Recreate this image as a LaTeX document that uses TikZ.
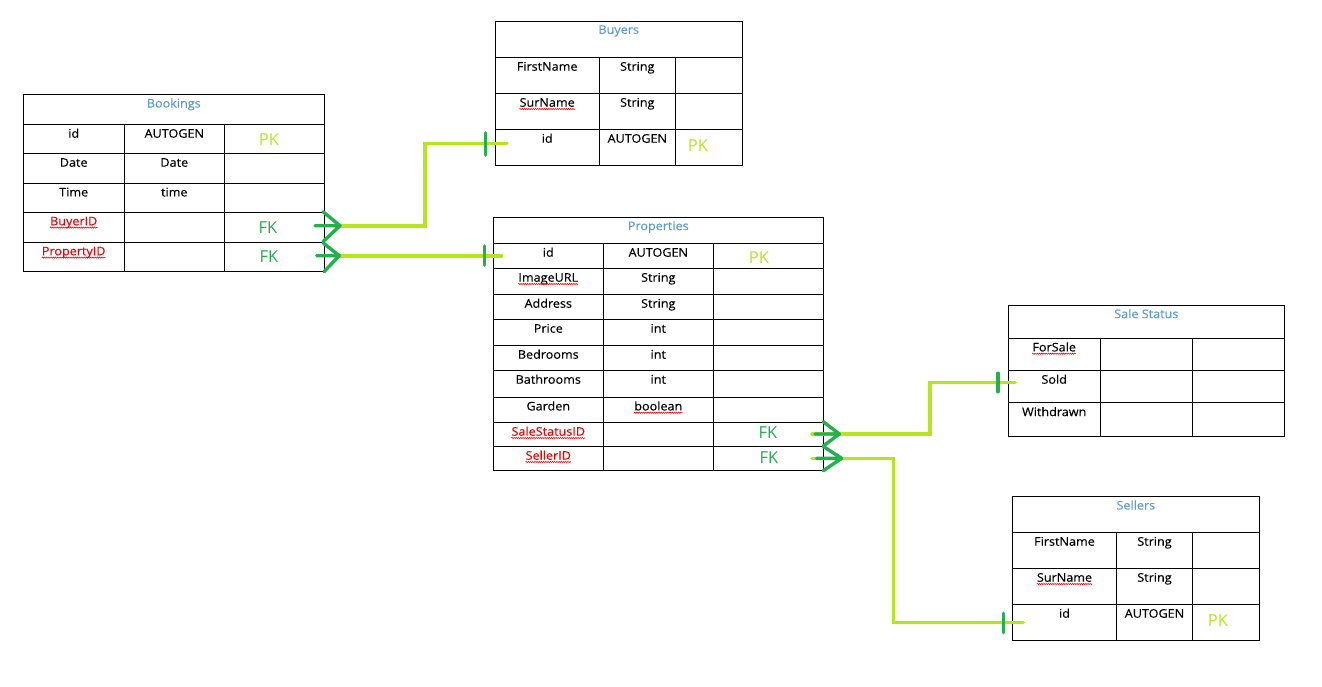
\documentclass[tikz,border=0pt]{standalone}
\usepackage{fontspec}
\setmainfont{Open Sans}[FakeStretch=1.06, FakeBold=0.3]
\newfontfamily\keyfont{Open Sans}
\usetikzlibrary{decorations.pathmorphing}

\definecolor{hdrblue}{RGB}{91,155,213}
\definecolor{lime}{RGB}{181,230,29}
\definecolor{pgreen}{RGB}{34,177,76}
\definecolor{fkgreen}{RGB}{36,172,72}
\definecolor{errred}{RGB}{240,0,0}

\tikzset{
  grid/.style={draw=black, line width=1.1pt},
  cell/.style={font=\fontsize{11.9}{12}\selectfont, anchor=base, inner sep=0pt},
  hdr/.style={cell, text=hdrblue},
  fkname/.style={cell, text=errred},
  pkey/.style={font=\keyfont\fontsize{16.5}{17}\selectfont, text=lime, anchor=base, inner sep=0pt},
  fkey/.style={font=\keyfont\fontsize{16.5}{17}\selectfont, text=fkgreen, anchor=base, inner sep=0pt},
  link/.style={draw=lime, line width=3.6pt, line cap=round, line join=miter},
  crow/.style={draw=pgreen, line width=3.4pt, line cap=round, line join=round},
  bar/.style={draw=pgreen, line width=3.6pt, line cap=round},
  squiggle/.style={draw=red, line width=0.6pt, decorate,
    decoration={snake, amplitude=0.6pt, segment length=2.2pt}},
}

% red wavy underline below a named text node
\newcommand{\wavy}[1]{%
  \draw[squiggle] ([yshift=-2.3pt]#1.base west) -- ([yshift=-2.3pt]#1.base east);}

\begin{document}
\begin{tikzpicture}[x=1pt, y=-1pt]
\useasboundingbox (0,0) rectangle (1322,686);

% ---------------- Bookings ----------------
\draw[grid] (23.5,94.5) rectangle (324.5,271.5);
\foreach \y in {124.5,153.5,183.5,212.5,242.5} \draw[grid] (23.5,\y) -- (324.5,\y);
\foreach \x in {124.5,224.5} \draw[grid] (\x,124.5) -- (\x,271.5);
\node[hdr] (bk-title) at (173.8,107.5) {Bookings};
\node[cell] (bk-id) at (73.7,137.7) {id};
\node[cell] (bk-idt) at (174.3,137.7) {AUTOGEN};
\node[pkey] (bk-pk) at (269,145.3) {PK};
\node[cell] (bk-date) at (73.7,166.7) {Date};
\node[cell] (bk-datet) at (174.3,166.7) {Date};
\node[cell] (bk-time) at (73.7,196.4) {Time};
\node[cell] (bk-timet) at (174.3,196.4) {time};
\node[fkname] (bk-buyer) at (73.7,225.3) {BuyerID};
\node[fkey] (bk-fk1) at (268,233) {FK};
\node[fkname] (bk-prop) at (73.7,255.3) {PropertyID};
\node[fkey] (bk-fk2) at (269,262) {FK};
\wavy{bk-buyer}
\wavy{bk-prop}

% ---------------- Buyers ----------------
\draw[grid] (495.5,21.5) rectangle (742.5,165.5);
\foreach \y in {57.5,93.5,129.5} \draw[grid] (495.5,\y) -- (742.5,\y);
\foreach \x in {599.5,675.5} \draw[grid] (\x,57.5) -- (\x,165.5);
\node[hdr] (by-title) at (618.7,33.8) {Buyers};
\node[cell] (by-first) at (547.2,70.7) {FirstName};
\node[cell] (by-firstt) at (637.3,70.7) {String};
\node[cell] (by-sur) at (547.2,106.7) {SurName};
\node[cell] (by-surt) at (637.3,106.7) {String};
\node[cell] (by-id) at (547.2,142.7) {id};
\node[cell] (by-idt) at (637.3,142.7) {AUTOGEN};
\node[pkey] (by-pk) at (698,151.3) {PK};
\wavy{by-sur}

% ---------------- Properties ----------------
\draw[grid] (493.5,217.5) rectangle (823.5,470.5);
\foreach \y in {243.5,268.5,294.5,319.5,345.5,370.5,397.5,422.5,446.5}
  \draw[grid] (493.5,\y) -- (823.5,\y);
\foreach \x in {603.5,713.5} \draw[grid] (\x,243.5) -- (\x,470.5);
\node[hdr] (pr-title) at (658.3,230.1) {Properties};
\node[cell] (pr-id) at (548.3,256.7) {id};
\node[cell] (pr-idt) at (658.3,256.7) {AUTOGEN};
\node[pkey] (pr-pk) at (759,263) {PK};
\node[cell] (pr-img) at (548.3,281.7) {ImageURL};
\node[cell] (pr-imgt) at (658.3,281.7) {String};
\node[cell] (pr-addr) at (548.3,307.7) {Address};
\node[cell] (pr-addrt) at (658.3,307.7) {String};
\node[cell] (pr-price) at (548.3,332.7) {Price};
\node[cell] (pr-pricet) at (658.3,332.7) {int};
\node[cell] (pr-bed) at (548.3,358.7) {Bedrooms};
\node[cell] (pr-bedt) at (658.3,358.7) {int};
\node[cell] (pr-bath) at (548.3,383.7) {Bathrooms};
\node[cell] (pr-batht) at (658.3,383.7) {int};
\node[cell] (pr-gard) at (548.3,410.4) {Garden};
\node[cell] (pr-gardt) at (658.3,410.4) {boolean};
\node[fkname] (pr-sale) at (548.3,435.7) {SaleStatusID};
\node[fkey] (pr-fk1) at (768,438) {FK};
\node[fkname] (pr-seller) at (548.3,459.7) {SellerID};
\node[fkey] (pr-fk2) at (769,463.3) {FK};
\wavy{pr-img}
\wavy{pr-gardt}
\wavy{pr-sale}
\wavy{pr-seller}

% ---------------- Sale Status ----------------
\draw[grid] (1008.5,305.5) rectangle (1284.5,436.5);
\foreach \y in {338.5,370.5,402.5} \draw[grid] (1008.5,\y) -- (1284.5,\y);
\foreach \x in {1100.5,1192.5} \draw[grid] (\x,338.5) -- (\x,436.5);
\node[hdr] (ss-title) at (1146.3,318.1) {Sale Status};
\node[cell] (ss-forsale) at (1054.2,351.4) {ForSale};
\node[cell] (ss-sold) at (1054.2,383.7) {Sold};
\node[cell] (ss-withdrawn) at (1054.2,416.1) {Withdrawn};
\wavy{ss-forsale}

% ---------------- Sellers ----------------
\draw[grid] (1012.5,496.5) rectangle (1259.5,640.5);
\foreach \y in {532.5,568.5,604.5} \draw[grid] (1012.5,\y) -- (1259.5,\y);
\foreach \x in {1116.5,1192.5} \draw[grid] (\x,532.5) -- (\x,640.5);
\node[hdr] (sl-title) at (1135.8,509.5) {Sellers};
\node[cell] (sl-first) at (1064.5,545.7) {FirstName};
\node[cell] (sl-firstt) at (1154.5,545.7) {String};
\node[cell] (sl-sur) at (1064.5,581.7) {SurName};
\node[cell] (sl-surt) at (1154.5,581.7) {String};
\node[cell] (sl-id) at (1064.5,617.7) {id};
\node[cell] (sl-idt) at (1154.5,617.7) {AUTOGEN};
\node[pkey] (sl-pk) at (1218,626.3) {PK};
\wavy{sl-sur}

% ---------------- relationship ends ----------------
% Bookings.BuyerID -> Buyers.id
\coordinate (a-tail) at (315,225.7);
\coordinate (a-tip)  at (340,225.7);
\coordinate (a-up)   at (323,211.7);
\coordinate (a-dn)   at (323,241.7);
\coordinate (a-bend) at (425,143.3);
\coordinate (a-end)  at (506.7,143.3);
\coordinate (a-bar1) at (485.3,133);
\coordinate (a-bar2) at (485.3,155);
% Bookings.PropertyID -> Properties.id
\coordinate (b-tail) at (316.7,255.7);
\coordinate (b-tip)  at (339.3,255.7);
\coordinate (b-up)   at (323.3,243);
\coordinate (b-dn)   at (324,271.7);
\coordinate (b-end)  at (501.7,255.7);
\coordinate (b-bar1) at (484.3,246);
\coordinate (b-bar2) at (484.3,265);
% Properties.SaleStatusID -> Sale Status
\coordinate (c-start) at (812,434);
\coordinate (c-tail) at (815,434);
\coordinate (c-tip)  at (839.3,434);
\coordinate (c-up)   at (823.3,421.7);
\coordinate (c-dn)   at (823.3,446);
\coordinate (c-bend) at (930,382.3);
\coordinate (c-end)  at (1015,382.3);
\coordinate (c-bar1) at (997.7,373.3);
\coordinate (c-bar2) at (997.7,391.7);
% Properties.SellerID -> Sellers.id
\coordinate (d-start) at (812,458.3);
\coordinate (d-tail) at (816.7,458.3);
\coordinate (d-tip)  at (841.7,458.3);
\coordinate (d-up)   at (823.3,446.5);
\coordinate (d-dn)   at (823.3,470.7);
\coordinate (d-bend) at (893.3,622.3);
\coordinate (d-end)  at (1023.3,622.3);
\coordinate (d-bar1) at (1003.3,613.3);
\coordinate (d-bar2) at (1003.3,632.7);

% lime connector lines
\draw[link] (a-tip) -| (a-bend) -- (a-end);
\draw[link] (b-tip) -- (b-end);
\draw[link] (c-start) -| (c-bend) -- (c-end);
\draw[link] (d-start) -| (d-bend) -- (d-end);

% green many-ends and one-bars
\draw[crow] (a-tail) -- (a-tip) (a-up) -- (a-tip) -- (a-dn);
\draw[crow] (b-tail) -- (b-tip) (b-up) -- (b-tip) -- (b-dn);
\draw[crow] (c-tail) -- (c-tip) (c-up) -- (c-tip) -- (c-dn);
\draw[crow] (d-tail) -- (d-tip) (d-up) -- (d-tip) -- (d-dn);
\draw[bar] (a-bar1) -- (a-bar2);
\draw[bar] (b-bar1) -- (b-bar2);
\draw[bar] (c-bar1) -- (c-bar2);
\draw[bar] (d-bar1) -- (d-bar2);

\end{tikzpicture}
\end{document}
